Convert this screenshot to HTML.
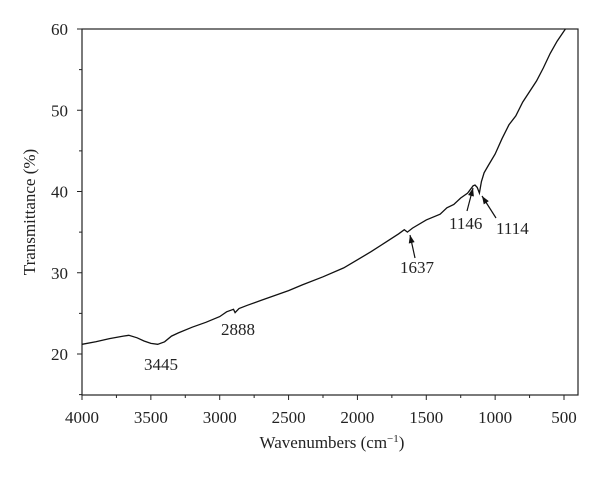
<!DOCTYPE html>
<html><head><meta charset="utf-8"><style>body{margin:0;background:#fff}svg text{font-family:"Liberation Serif",serif;fill:#222}</style></head>
<body>
<svg id="chart" width="600" height="474" xmlns="http://www.w3.org/2000/svg"></svg>
<script>
const wavenumbers=[4000,3900,3800,3700,3660,3600,3550,3500,3450,3400,3350,3300,3200,3100,3000,2950,2900,2888,2860,2800,2700,2600,2500,2400,2250,2100,2000,1900,1800,1700,1660,1637,1600,1500,1400,1350,1300,1250,1200,1160,1146,1130,1114,1100,1080,1050,1000,950,900,850,800,700,650,600,550,490];
const transmittance=[21.2,21.5,21.9,22.2,22.3,22.0,21.6,21.3,21.2,21.5,22.2,22.6,23.3,23.9,24.6,25.2,25.5,25.1,25.6,26.0,26.6,27.2,27.8,28.5,29.5,30.6,31.6,32.6,33.7,34.8,35.3,35.0,35.5,36.5,37.2,38.0,38.4,39.2,39.8,40.7,40.8,40.5,39.8,41.2,42.3,43.2,44.6,46.5,48.2,49.3,51.0,53.6,55.2,57.0,58.5,60.0];
const xTicks=[4000,3500,3000,2500,2000,1500,1000,500];
const yTicks=[20,30,40,50,60];
const peaks=[3445,2888,1637,1146,1114];
const L=82,R=578,T=29,B=395;
const X=v=>L+(4000-v)*482/3500;
const Y=v=>354-(v-20)*8.125;
const svg=document.getElementById('chart');const NS='http://www.w3.org/2000/svg';
function mk(t,a,txt){const e=document.createElementNS(NS,t);for(const k in a)e.setAttribute(k,a[k]);if(txt!==undefined)e.textContent=txt;svg.appendChild(e);return e;}
const frame=mk('rect',{x:L,y:T,width:R-L,height:B-T,fill:'none',stroke:'#222','stroke-width':1.2});


xTicks.forEach(v=>{const t=mk('line',{x1:X(v),x2:X(v),y1:B,y2:B+5,stroke:'#222'});


const l=mk('text',{x:X(v),y:B+28,'text-anchor':'middle','font-size':17},v);


const m=v-250;if(m>400){const mt=mk('line',{x1:X(m),x2:X(m),y1:B,y2:B+3,stroke:'#222'});

}});
yTicks.forEach(v=>{const t=mk('line',{x1:L-5,x2:L,y1:Y(v),y2:Y(v),stroke:'#222'});


const l=mk('text',{x:L-14,y:Y(v)+6,'text-anchor':'end','font-size':17},v);


const mt=mk('line',{x1:L-3,x2:L,y1:Y(v-5),y2:Y(v-5),stroke:'#222'});

});
const d=wavenumbers.map((w,i)=>(i?'L':'M')+X(w).toFixed(1)+','+Y(transmittance[i]).toFixed(1)).join(' ');
const line=mk('path',{d:d,fill:'none',stroke:'#111','stroke-width':1.3});


const labelPos=[[144,370],[221,335],[400,273],[449,229],[496,234]];
peaks.forEach((p,i)=>{const l=mk('text',{x:labelPos[i][0],y:labelPos[i][1],'font-size':17},p);

});
const arrows=[[415,258,410,235],[467,211,473,188],[496,218,482,196]];
arrows.forEach(a=>{const ln=mk('line',{x1:a[0],y1:a[1],x2:a[2],y2:a[3],stroke:'#111','stroke-width':1.2});


const ang=Math.atan2(a[3]-a[1],a[2]-a[0]),s=8,w=3;
const bx=a[2]-s*Math.cos(ang),by=a[3]-s*Math.sin(ang);
const hd=mk('polygon',{points:`${a[2]},${a[3]} ${bx-w*Math.sin(ang)},${by+w*Math.cos(ang)} ${bx+w*Math.sin(ang)},${by-w*Math.cos(ang)}`,fill:'#111'});

});
const xt=mk('text',{x:332,y:448,'text-anchor':'middle','font-size':17});
xt.innerHTML='Wavenumbers (cm<tspan baseline-shift="super" font-size="11">−1</tspan>)';


const yt=mk('text',{x:35,y:212,'text-anchor':'middle','font-size':17,transform:'rotate(-90 35 212)'},'Transmittance (%)');


</script>
</body></html>
